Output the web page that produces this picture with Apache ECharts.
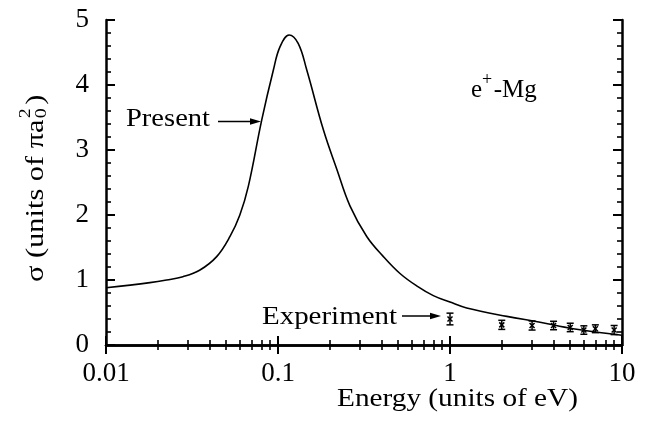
<!DOCTYPE html>
<html>
<head>
<meta charset="utf-8">
<script src="https://cdn.jsdelivr.net/npm/echarts@6/dist/echarts.min.js"></script>
<style>
html,body{margin:0;padding:0;background:#fff;}
#chart{width:657px;height:425px;}
</style>
</head>
<body>
<div id="chart"></div>
<script>
// ---- data ----
const curveEnergy = [0.010, 0.018, 0.0225, 0.028, 0.035, 0.044, 0.0526, 0.060, 0.0672, 0.0804, 0.094, 0.1028, 0.116, 0.131, 0.147, 0.1836, 0.22, 0.262, 0.328, 0.41, 0.512, 0.64, 0.80, 1.0, 1.25, 2.14, 3.34, 5.2, 10];
const curveSigma  = [0.88, 0.96, 1.00, 1.05, 1.15, 1.36, 1.67, 2.00, 2.44, 3.46, 4.23, 4.59, 4.77, 4.64, 4.23, 3.31, 2.70, 2.14, 1.67, 1.36, 1.10, 0.91, 0.76, 0.66, 0.57, 0.44, 0.35, 0.25, 0.15];
const expEnergy = [1, 2, 3, 4, 5, 6, 7, 9];
const expSigma  = [0.40, 0.31, 0.30, 0.30, 0.27, 0.23, 0.25, 0.23];
const expError  = [0.09, 0.07, 0.07, 0.065, 0.065, 0.065, 0.06, 0.07];
const yTicks = [0, 1, 2, 3, 4, 5];
const xTicks = ['0.01', '0.1', '1', '10'];

const FONT = '"Liberation Serif","Times New Roman",serif';
function tw(t, size) {
  const c = document.createElement('canvas').getContext('2d');
  c.font = size + 'px ' + FONT;
  return c.measureText(t).width;
}

const chart = echarts.init(document.getElementById('chart'), null, {renderer: 'canvas'});

const axisLine = {show: true, lineStyle: {color: '#000', width: 2.5}};
const majorTick = {show: true, inside: true, length: 9, lineStyle: {color: '#000', width: 2}};
const minorTickX = {show: true, splitNumber: 9, length: 5, lineStyle: {color: '#000', width: 1.6}};
const minorTickY = {show: true, splitNumber: 5, length: 5, lineStyle: {color: '#000', width: 1.6}};

function scaledText(str, size, left, midY, targetW) {
  const w = tw(str, size);
  return {
    type: 'group', x: left, y: midY, scaleX: targetW / w,
    children: [{type: 'text', x: 0, y: 0, style: {text: str, font: size + 'px ' + FONT, fill: '#000', textAlign: 'left', textVerticalAlign: 'middle'}}]
  };
}
function arrow(x1, x2, y) {
  return {
    type: 'group', children: [
      {type: 'line', shape: {x1: x1, y1: y, x2: x2 - 8, y2: y}, style: {stroke: '#000', lineWidth: 1.5}},
      {type: 'polygon', shape: {points: [[x2, y], [x2 - 11, y - 3.2], [x2 - 11, y + 3.2]]}, style: {fill: '#000'}}
    ]
  };
}

// y axis title (rotated)
const ySize = 26;
const yMain = 'σ (units of πa';
const yMainW = tw(yMain, ySize);
const ySubW = tw('0', 17);
const yTotal = yMainW + ySubW + 2 + tw(')', ySize);
const yScale = 185 / yTotal;
const yTitle = {
  type: 'group', x: 36, y: 282, rotation: Math.PI / 2, scaleX: yScale,
  children: [
    {type: 'text', x: 0, y: 0, style: {text: yMain, font: ySize + 'px ' + FONT, fill: '#000', textVerticalAlign: 'middle'}},
    {type: 'text', x: yMainW + 1, y: -10, style: {text: '2', font: '17px ' + FONT, fill: '#000', textVerticalAlign: 'middle'}},
    {type: 'text', x: yMainW + 1, y: 6, style: {text: '0', font: '17px ' + FONT, fill: '#000', textVerticalAlign: 'middle'}},
    {type: 'text', x: yMainW + ySubW + 4, y: 0, style: {text: ')', font: ySize + 'px ' + FONT, fill: '#000', textVerticalAlign: 'middle'}}
  ]
};

// e+-Mg label
const lblSize = 25;
const eW = tw('e', lblSize);
const plusW = tw('+', 17);
const mgLabel = {
  type: 'group', x: 471, y: 90, children: [
    {type: 'text', x: 0, y: 0, style: {text: 'e', font: lblSize + 'px ' + FONT, fill: '#000', textVerticalAlign: 'middle'}},
    {type: 'text', x: eW, y: -10, style: {text: '+', font: '18px ' + FONT, fill: '#000', textVerticalAlign: 'middle'}},
    {type: 'text', x: eW + plusW + 2, y: 0, style: {text: '-Mg', font: lblSize + 'px ' + FONT, fill: '#000', textVerticalAlign: 'middle'}}
  ]
};

const option = {
  backgroundColor: '#fff',
  animation: false,
  grid: {left: 106, right: 35, top: 20, bottom: 80, containLabel: false},
  xAxis: [
    {
      type: 'log', logBase: 10, min: 0.01, max: 10, position: 'bottom',
      axisLine: axisLine, axisTick: majorTick, minorTick: minorTickX,
      splitLine: {show: false}, minorSplitLine: {show: false},
      axisLabel: {color: '#000', fontSize: 27, fontFamily: FONT, margin: 15,
        formatter: function (v) { const i = Math.round(Math.log10(v)) + 2; return xTicks[i] !== undefined ? xTicks[i] : ''; }}
    },
    {
      type: 'log', logBase: 10, min: 0.01, max: 10, position: 'top',
      axisLine: axisLine, axisTick: majorTick, minorTick: minorTickX,
      splitLine: {show: false}, axisLabel: {show: false}
    }
  ],
  yAxis: [
    {
      type: 'value', min: 0, max: 5, interval: 1, position: 'left',
      axisLine: axisLine, axisTick: majorTick, minorTick: minorTickY,
      splitLine: {show: false},
      axisLabel: {color: '#000', fontSize: 27, fontFamily: FONT, margin: 17,
        formatter: function (v) { return yTicks.indexOf(v) >= 0 ? String(v) : ''; }}
    },
    {
      type: 'value', min: 0, max: 5, interval: 1, position: 'right',
      axisLine: axisLine, axisTick: majorTick, minorTick: minorTickY,
      splitLine: {show: false}, axisLabel: {show: false}
    }
  ],
  series: [
    {
      type: 'line', xAxisIndex: 0, yAxisIndex: 0,
      data: curveEnergy.map((e, i) => [e, curveSigma[i]]),
      smooth: 0.4, showSymbol: false, symbol: 'none',
      lineStyle: {color: '#000', width: 1.6}
    },
    {
      type: 'custom', xAxisIndex: 0, yAxisIndex: 0,
      data: expEnergy.map((e, i) => [e, expSigma[i], expError[i]]),
      renderItem: function (params, api) {
        const x = api.value(0), y = api.value(1), err = api.value(2);
        const c = api.coord([x, y]);
        const t = api.coord([x, y + err]);
        const b = api.coord([x, y - err]);
        const cw = 3.5, m = 2.5;
        const st = {stroke: '#000', lineWidth: 1.5};
        return {
          type: 'group', children: [
            {type: 'line', shape: {x1: c[0], y1: t[1], x2: c[0], y2: b[1]}, style: st},
            {type: 'line', shape: {x1: c[0] - cw, y1: t[1], x2: c[0] + cw, y2: t[1]}, style: st},
            {type: 'line', shape: {x1: c[0] - cw, y1: b[1], x2: c[0] + cw, y2: b[1]}, style: st},
            {type: 'line', shape: {x1: c[0] - m, y1: c[1] - m, x2: c[0] + m, y2: c[1] + m}, style: st},
            {type: 'line', shape: {x1: c[0] - m, y1: c[1] + m, x2: c[0] + m, y2: c[1] - m}, style: st}
          ]
        };
      }
    }
  ],
  graphic: [
    yTitle,
    mgLabel,
    scaledText('Present', 26, 126, 119, 84),
    arrow(218, 261, 121.5),
    scaledText('Experiment', 26, 262, 317, 135),
    arrow(402, 441, 316),
    scaledText('Energy (units of eV)', 26, 337, 399, 241)
  ]
};
chart.setOption(option);
</script>
</body>
</html>
